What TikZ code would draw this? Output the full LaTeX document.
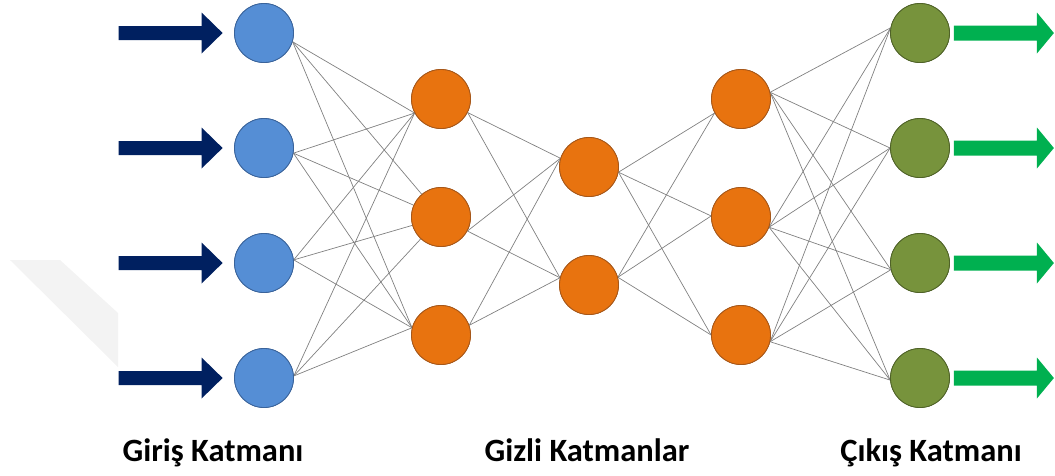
\documentclass[tikz,border=0pt]{standalone}
\usepackage{fontspec}
\setmainfont{Carlito}
\usetikzlibrary{calc}
\definecolor{inblue}{HTML}{558ED5}
\definecolor{inblueb}{HTML}{3A639A}
\definecolor{hidorange}{HTML}{E8730F}
\definecolor{hidorangeb}{HTML}{A5571A}
\definecolor{outgreen}{HTML}{77933C}
\definecolor{outgreenb}{HTML}{4F6228}
\definecolor{navy}{HTML}{002060}
\definecolor{arrgreen}{HTML}{00B050}
\definecolor{wire}{HTML}{808080}
\definecolor{wmark}{HTML}{F3F3F3}
\tikzset{
  neuron/.style={circle, minimum size=59pt, inner sep=0pt, line width=0.8pt},
  innode/.style={neuron, fill=inblue, draw=inblueb},
  hidnode/.style={neuron, fill=hidorange, draw=hidorangeb},
  outnode/.style={neuron, fill=outgreen, draw=outgreenb},
  wireline/.style={draw=wire, line width=0.7pt},
  layerlabel/.style={font=\bfseries\fontsize{32.5}{36}\selectfont, anchor=base, inner sep=0pt},
}
\begin{document}
\begin{tikzpicture}[x=1pt,y=-1pt]
\useasboundingbox (0,0) rectangle (1055,475);
% faint watermark band
\fill[wmark] (10,260) -- (60,260) -- (118,313) -- (118,367) -- cycle;

% input layer
\node[innode] (i1) at (264,33) {};
\node[innode] (i2) at (264,148) {};
\node[innode] (i3) at (264,263) {};
\node[innode] (i4) at (264,378) {};
% hidden layer 1
\node[hidnode] (a1) at (441,99) {};
\node[hidnode] (a2) at (441,217) {};
\node[hidnode] (a3) at (441,335) {};
% hidden layer 2
\node[hidnode] (b1) at (589,167) {};
\node[hidnode] (b2) at (589,285) {};
% hidden layer 3
\node[hidnode] (c1) at (741,99) {};
\node[hidnode] (c2) at (741,217) {};
\node[hidnode] (c3) at (741,335) {};
% output layer
\node[outnode] (o1) at (920,33) {};
\node[outnode] (o2) at (920,148) {};
\node[outnode] (o3) at (920,263) {};
\node[outnode] (o4) at (920,378) {};

% connections
\foreach \s/\sa in {i1/-17, i2/-10, i3/6, i4/4}{
  \draw[wireline] (\s.\sa) -- (a1.208);
  \draw[wireline] (\s.\sa) -- (a2);
  \draw[wireline] (\s.\sa) -- (a3.166);
}
\foreach \s/\sa in {a1/-27, a2/-28, a3/19}{
  \draw[wireline] (\s.\sa) -- (b1.163);
  \draw[wireline] (\s.\sa) -- (b2.166);
}
\foreach \s/\sa in {b1/-10, b2/15}{
  \draw[wireline] (\s.\sa) -- (c1.208);
  \draw[wireline] (\s.\sa) -- (c2.178);
  \draw[wireline] (\s.\sa) -- (c3.180);
}
\foreach \s/\sa in {c1/13, c2/-20, c3/-13}{
  \draw[wireline] (\s.\sa) -- (o1.170);
  \draw[wireline] (\s.\sa) -- (o2.180);
  \draw[wireline] (\s.\sa) -- (o3.193);
  \draw[wireline] (\s.\sa) -- (o4.184);
}

% redraw nodes on top of wires
\foreach \n in {i1,i2,i3,i4}{\fill[inblue, draw=inblueb, line width=0.8pt] (\n) circle (29.5pt);}
\foreach \n in {a1,a2,a3,b1,b2,c1,c2,c3}{\fill[hidorange, draw=hidorangeb, line width=0.8pt] (\n) circle (29.5pt);}
\foreach \n in {o1,o2,o3,o4}{\fill[outgreen, draw=outgreenb, line width=0.8pt] (\n) circle (29.5pt);}

% input arrows
\foreach \n in {i1,i2,i3,i4}{
  \fill[navy] ($(\n.west)+(-115.5,-7)$) -- ++(83,0) -- ++(0,-13.5) -- ++(21,20.5)
     -- ++(-21,20.5) -- ++(0,-13.5) -- ++(-83,0) -- cycle;
}
% output arrows
\foreach \n in {o1,o2,o3,o4}{
  \fill[arrgreen] ($(\n.east)+(4,-7.5)$) -- ++(83,0) -- ++(0,-13) -- ++(17,20.5)
     -- ++(-17,20.5) -- ++(0,-13) -- ++(-83,0) -- cycle;
}

% labels
\node[layerlabel] (l1) at (213,461) {Giriş Katmanı};
\node[layerlabel] (l2) at (587,461) {Gizli Katmanlar};
\node[layerlabel] (l3) at (931,461) {Çıkış Katmanı};
\end{tikzpicture}
\end{document}
